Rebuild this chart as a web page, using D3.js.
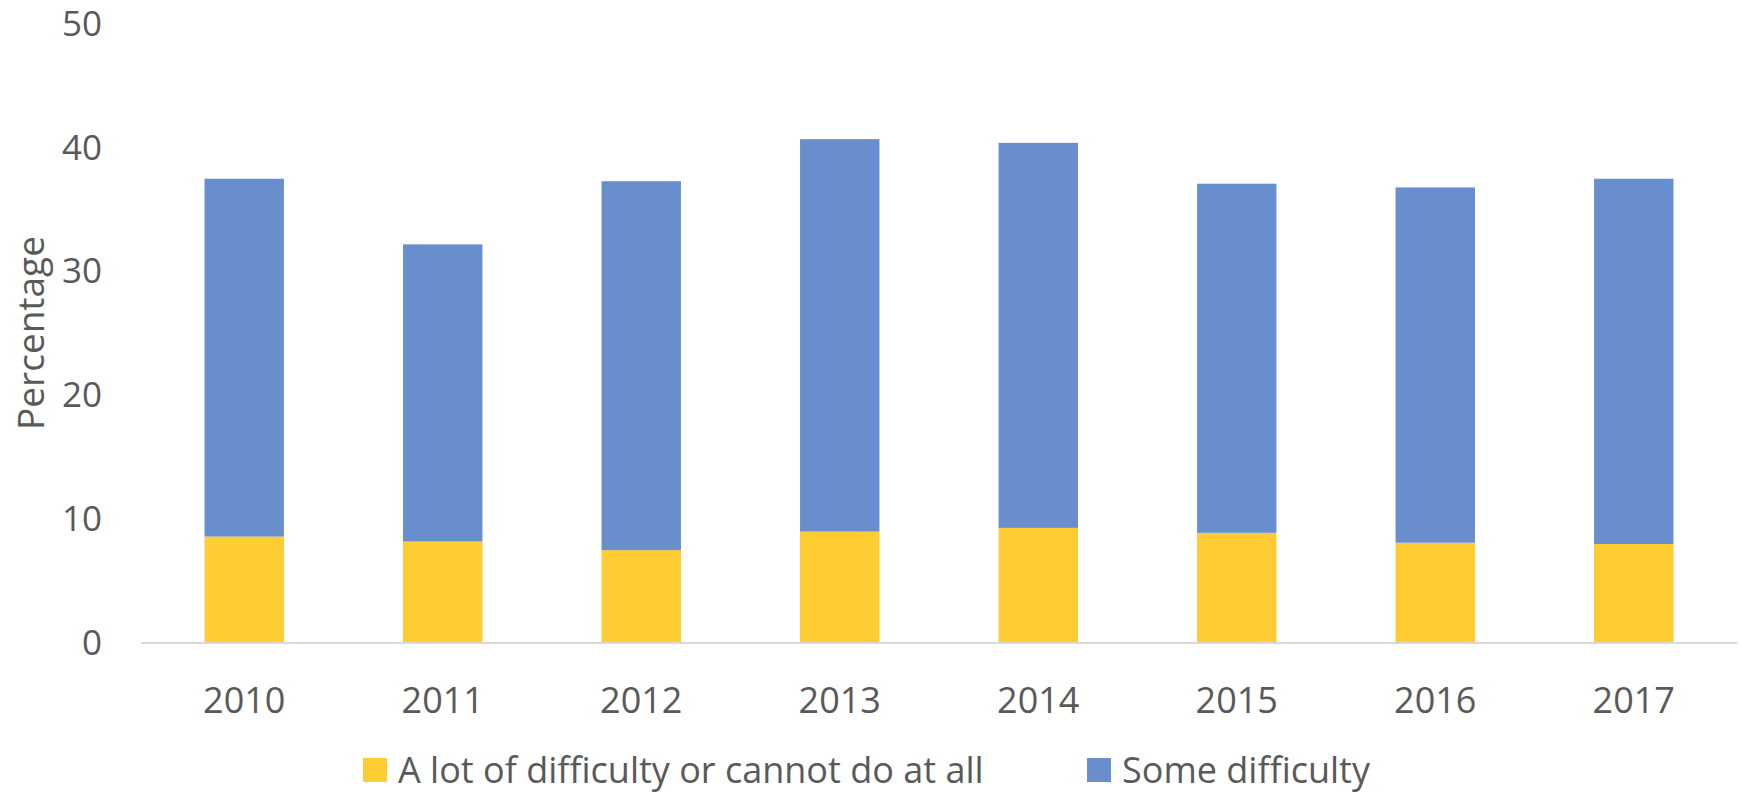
<!DOCTYPE html>
<html>
<head>
<meta charset="utf-8">
<script src="https://cdn.jsdelivr.net/npm/d3@7"></script>
<style>
  body { margin: 0; background: #fff; }
  text { font-family: "Open Sans", sans-serif; fill: #595959; }
</style>
</head>
<body>
<script>
// data
var years = ['2010', '2011', '2012', '2013', '2014', '2015', '2016', '2017'];
var aLot = [8.6, 8.2, 7.5, 9.0, 9.3, 8.9, 8.1, 8.0];        // a lot of difficulty or cannot do at all
var some = [28.9, 24.0, 29.8, 31.7, 31.1, 28.2, 28.7, 29.5]; // some difficulty
var yTicks = [0, 10, 20, 30, 40, 50];
var seriesNames = ['A lot of difficulty or cannot do at all', 'Some difficulty'];
var colors = ['#FFCC33', '#688ECE'];

var W = 1740, H = 793;
var margin = { top: 24, right: 3, bottom: 150, left: 141 };
var width = W - margin.left - margin.right;
var height = H - margin.top - margin.bottom;

var svg = d3.select('body').append('svg')
  .attr('width', W)
  .attr('height', H);

var g = svg.append('g')
  .attr('transform', `translate(${margin.left}, ${margin.top})`);

var xScale = d3.scaleBand().domain(years).range([0, width]).paddingInner(0.6).paddingOuter(0.32);
var yScale = d3.scaleLinear().domain([0, 50]).range([height, 0]);

// stack the two series
var rows = years.map(function(y, i) { return { year: y, a: aLot[i], s: some[i] }; });
var stacked = d3.stack().keys(['a', 's'])(rows);

g.selectAll('g.series')
  .data(stacked)
  .enter().append('g')
  .attr('class', 'series')
  .attr('fill', function(d, i) { return colors[i]; })
  .selectAll('rect')
  .data(function(d) { return d; })
  .enter().append('rect')
  .attr('x', function(d) { return xScale(d.data.year); })
  .attr('width', xScale.bandwidth())
  .attr('y', function(d) { return yScale(d[1]); })
  .attr('height', function(d) { return yScale(d[0]) - yScale(d[1]); });

// baseline
g.append('line')
  .attr('x1', 0)
  .attr('x2', width)
  .attr('y1', yScale(0))
  .attr('y2', yScale(0))
  .attr('stroke', '#D9D9D9')
  .attr('stroke-width', 2);

// y axis labels (no line, no ticks)
var yAxis = g.append('g')
  .attr('transform', 'translate(-39, 0)')
  .call(d3.axisLeft(yScale).tickValues(yTicks).tickSize(0).tickPadding(0));
yAxis.select('.domain').remove();
yAxis.selectAll('text')
  .attr('fill', '#595959')
  .style('font-family', '"Open Sans", sans-serif')
  .style('font-size', '35px');

// x axis labels
var xAxis = g.append('g')
  .attr('transform', `translate(0, ${height})`)
  .call(d3.axisBottom(xScale).tickSize(0).tickPadding(44));
xAxis.select('.domain').remove();
xAxis.selectAll('text')
  .attr('fill', '#595959')
  .style('font-family', '"Open Sans", sans-serif')
  .style('font-size', '36px');

// y axis title
svg.append('text')
  .attr('transform', 'translate(31, 333) rotate(-90)')
  .attr('text-anchor', 'middle')
  .attr('dy', '0.35em')
  .style('font-size', '37px')
  .text('Percentage');

// legend
var legendX = [363, 1087];
var legend = svg.selectAll('g.legend')
  .data(seriesNames)
  .enter().append('g')
  .attr('class', 'legend')
  .attr('transform', function(d, i) { return `translate(${legendX[i]}, 758)`; });

legend.append('rect')
  .attr('width', 24)
  .attr('height', 24)
  .attr('fill', function(d, i) { return colors[i]; });

legend.append('text')
  .attr('x', 35)
  .attr('y', 12)
  .attr('dy', '0.35em')
  .style('font-size', '36px')
  .text(function(d) { return d; });
</script>
</body>
</html>
